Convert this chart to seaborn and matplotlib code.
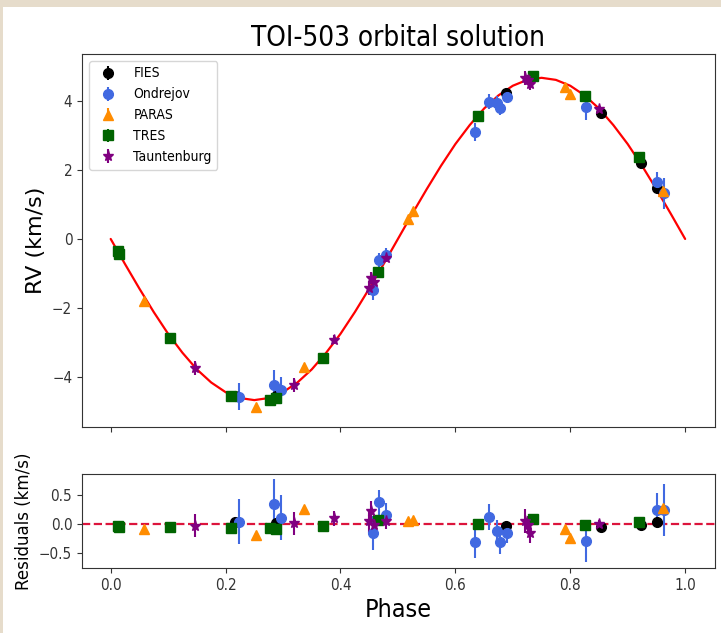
import matplotlib
matplotlib.use("Agg")
import matplotlib.pyplot as plt
import seaborn as sns
import pandas as pd
from matplotlib.patches import Rectangle

# --- data ---
fies_phase = [0.216, 0.288, 0.688, 0.853, 0.923, 0.951]
fies_rv = [-4.54, -4.55, 4.24, 3.66, 2.19, 1.47]
fies_err = [0.04, 0.04, 0.04, 0.04, 0.04, 0.04]
fies_res = [0.04, 0.02, -0.03, -0.06, -0.02, 0.03]

ond_phase = [0.223, 0.285, 0.297, 0.456, 0.467, 0.479, 0.634, 0.659, 0.673, 0.678, 0.690, 0.828, 0.951, 0.963]
ond_rv = [-4.57, -4.23, -4.38, -1.47, -0.62, -0.47, 3.11, 3.98, 3.93, 3.79, 4.11, 3.82, 1.66, 1.32]
ond_err = [0.39, 0.43, 0.39, 0.29, 0.21, 0.20, 0.26, 0.22, 0.20, 0.20, 0.18, 0.36, 0.29, 0.45]
ond_res = [0.04, 0.34, 0.11, -0.16, 0.37, 0.16, -0.32, 0.12, -0.13, -0.32, -0.15, -0.29, 0.24, 0.24]

paras_phase = [0.058, 0.253, 0.337, 0.518, 0.526, 0.791, 0.800, 0.962]
paras_rv = [-1.79, -4.86, -3.70, 0.57, 0.81, 4.41, 4.19, 1.40]
paras_err = [0.04, 0.04, 0.04, 0.04, 0.04, 0.04, 0.04, 0.04]
paras_res = [-0.09, -0.20, 0.26, 0.05, 0.07, -0.09, -0.25, 0.27]

tres_phase = [0.012, 0.014, 0.103, 0.209, 0.277, 0.287, 0.370, 0.466, 0.639, 0.735, 0.826, 0.919]
tres_rv = [-0.35, -0.45, -2.86, -4.54, -4.67, -4.60, -3.44, -0.97, 3.57, 4.73, 4.15, 2.37]
tres_err = [0.03] * 12
tres_res = [-0.03, -0.05, -0.05, -0.07, -0.07, -0.08, -0.03, 0.07, -0.01, 0.08, -0.02, 0.03]

taut_phase = [0.146, 0.319, 0.388, 0.449, 0.453, 0.458, 0.480, 0.722, 0.726, 0.730, 0.850]
taut_rv = [-3.74, -4.23, -2.92, -1.43, -1.13, -1.24, -0.54, 4.66, 4.60, 4.49, 3.78]
taut_err = [0.20, 0.20, 0.13, 0.20, 0.17, 0.15, 0.13, 0.20, 0.15, 0.17, 0.06]
taut_res = [-0.03, 0.01, 0.10, 0.05, 0.23, -0.02, 0.05, 0.05, -0.02, -0.16, 0.00]

model_phase = [i / 40 for i in range(41)]
model_rv = [0.00, -0.73, -1.44, -2.12, -2.75, -3.30, -3.78, -4.16, -4.44, -4.61,
            -4.67, -4.61, -4.44, -4.16, -3.78, -3.30, -2.75, -2.12, -1.44, -0.73,
            0.00, 0.73, 1.44, 2.12, 2.75, 3.30, 3.78, 4.16, 4.44, 4.61,
            4.67, 4.61, 4.44, 4.16, 3.78, 3.30, 2.75, 2.12, 1.44, 0.73, 0.00]

datasets = [
    ("FIES", fies_phase, fies_rv, fies_err, fies_res, "black", "o", 7),
    ("Ondrejov", ond_phase, ond_rv, ond_err, ond_res, "royalblue", "o", 7),
    ("PARAS", paras_phase, paras_rv, paras_err, paras_res, "darkorange", "^", 7.5),
    ("TRES", tres_phase, tres_rv, tres_err, tres_res, "darkgreen", "s", 6.5),
    ("Tauntenburg", taut_phase, taut_rv, taut_err, taut_res, "purple", "*", 8),
]

sns.set_style("ticks", {"axes.edgecolor": "0.2", "text.color": "black",
                        "axes.labelcolor": "black", "xtick.color": "0.2",
                        "ytick.color": "0.2"})
plt.rcParams["font.family"] = ["DejaVu Sans"]
plt.rcParams["font.stretch"] = "condensed"

fig = plt.figure(figsize=(7.21, 6.33), dpi=100)
fig.patch.set_facecolor("#e6dccb")
fig.patches.append(Rectangle((3 / 721, 0), 1, 1 - 7 / 633, transform=fig.transFigure,
                             facecolor="white", edgecolor="none", zorder=-1))

ax1 = fig.add_axes([0.1137, 0.3254, 0.878, 0.5893])
ax2 = fig.add_axes([0.1137, 0.1027, 0.878, 0.1485], sharex=ax1)

model = pd.DataFrame({"phase": model_phase, "rv": model_rv})
sns.lineplot(data=model, x="phase", y="rv", color="red", lw=1.6, ax=ax1, zorder=1)

for name, ph, rv, err, res, col, mk, ms in datasets:
    ax1.errorbar(ph, rv, yerr=err, fmt=mk, color=col, ms=ms, elinewidth=1.5,
                 capsize=0, label=name, zorder=3)
    ax2.errorbar(ph, res, yerr=err, fmt=mk, color=col, ms=ms, elinewidth=1.5,
                 capsize=0, zorder=3)

ax2.axhline(0, color="crimson", ls="--", lw=1.6, zorder=2)

ax1.set_xlim(-0.05, 1.052)
ax1.set_ylim(-5.45, 5.36)
ax1.set_yticks([-4, -2, 0, 2, 4])
ax1.set_xlabel("")
ax1.set_ylabel("RV (km/s)", fontsize=16, fontstretch="normal")
ax1.set_title("TOI-503 orbital solution", fontsize=20)
ax1.tick_params(labelbottom=False, labelsize=11)
ax1.legend(loc="upper left", fontsize=10, handletextpad=0.8, labelspacing=0.5)

ax2.set_ylim(-0.76, 0.86)
ax2.set_yticks([-0.5, 0.0, 0.5])
ax2.set_xticks([0.0, 0.2, 0.4, 0.6, 0.8, 1.0])
ax2.set_xlabel("Phase", fontsize=18)
ax2.set_ylabel("Residuals (km/s)", fontsize=12, fontstretch="normal")
ax2.tick_params(labelsize=11)

fig.savefig("out.png", dpi=100)
